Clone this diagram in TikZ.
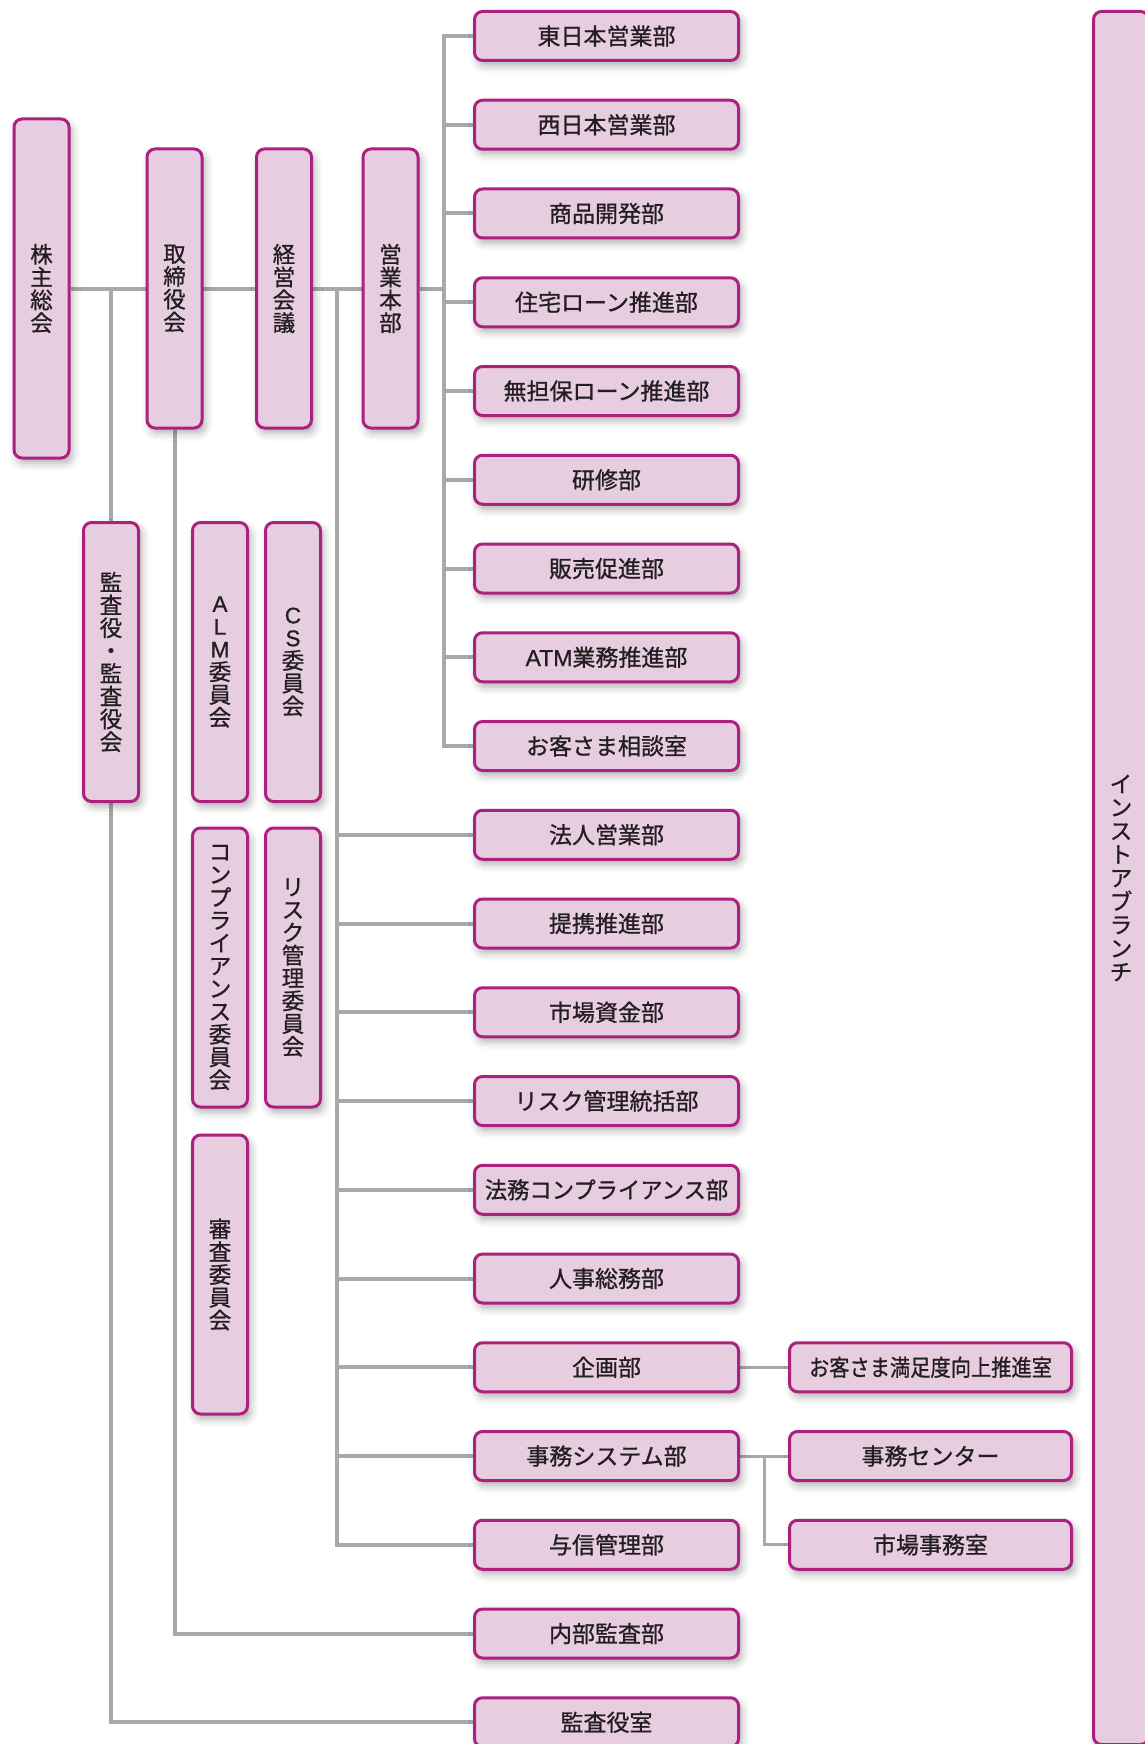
\documentclass[tikz,border=0pt]{standalone}
\usepackage{fontspec}
\setmainfont{Noto Sans CJK JP}[RawFeature={embolden=0.9}]
\newfontfamily\latfont{Liberation Sans}[RawFeature={embolden=0.9}]
\usepackage{graphicx}
\usetikzlibrary{shadows.blur,backgrounds}
\definecolor{bord}{HTML}{AC2180}
\definecolor{boxfill}{HTML}{E7CDE0}
\definecolor{linegray}{HTML}{A7A9AC}
\definecolor{txt}{HTML}{231F20}
\tikzset{
  orgbox/.style={draw=bord, fill=boxfill, line width=3pt, rounded corners=8pt,
    text=txt, inner sep=0pt,
    blur shadow={shadow xshift=3pt, shadow yshift=-5pt, shadow blur radius=8pt, shadow opacity=32}},
  hbox/.style={orgbox, minimum width=264pt, minimum height=49pt, font=\fontsize{23}{26}\selectfont},
  sbox/.style={orgbox, minimum width=282pt, minimum height=49pt, font=\fontsize{23}{26}\selectfont},
  vbox/.style={orgbox, minimum width=55pt, minimum height=279pt, align=center, font=\fontsize{22.5}{22.8}\selectfont},
  conn/.style={draw=linegray, line width=4pt},
  subconn/.style={draw=linegray, line width=3pt},
}
\begin{document}
\begin{tikzpicture}[x=1pt,y=-1pt]
\useasboundingbox (0,0) rectangle (1144,1744);
% vertical boxes
\node[vbox, minimum height=339pt] (shu) at (41.5,288.5) {株\\主\\総\\会};
\node[vbox] (tori) at (174.5,288.5) {取\\締\\役\\会};
\node[vbox] (kei) at (284,288.5) {経\\営\\会\\議};
\node[vbox] (eig) at (390.5,288.5) {営\\業\\本\\部};
\node[vbox] (kansa) at (111,662) {監\\査\\役\\・\\監\\査\\役\\会};
\node[vbox] (alm) at (220,662) {{\latfont A}\\{\latfont L}\\{\latfont M}\\委\\員\\会};
\node[vbox] (cs) at (293,662) {{\latfont C}\\{\latfont S}\\委\\員\\会};
\node[vbox] (comp) at (220,967.5) {コ\\ン\\プ\\ラ\\イ\\ア\\ン\\ス\\委\\員\\会};
\node[vbox] (risk) at (293,967.5) {リ\\ス\\ク\\管\\理\\委\\員\\会};
\node[vbox] (shinsa) at (220,1274.5) {審\\査\\委\\員\\会};
\node[vbox, minimum height=1733pt, font=\fontsize{22.5}{23.5}\selectfont] (instore) at (1121,878) {イ\\ン\\ス\\ト\\ア\\ブ\\ラ\\ン\\チ};
% horizontal boxes
\foreach \k/\t in {1/東日本営業部,2/西日本営業部,3/商品開発部,4/住宅ローン推進部,5/無担保ローン推進部,
  6/研修部,7/販売促進部,8/{{\latfont ATM}業務推進部},9/お客さま相談室,10/法人営業部,11/提携推進部,12/市場資金部,
  13/リスク管理統括部,14/{\scalebox{0.97}[1]{法務コンプライアンス部}},15/人事総務部,16/企画部,17/事務システム部,18/与信管理部,
  19/内部監査部,20/監査役室}
  \node[hbox] (r\k) at (606.5,{36+(\k-1)*88.75}) {\t};
\node[sbox] (s16) at (930.5,{36+15*88.75}) {\scalebox{0.88}[1]{お客さま満足度向上推進室}};
\node[sbox] (s17) at (930.5,{36+16*88.75}) {事務センター};
\node[sbox] (s18) at (930.5,{36+17*88.75}) {市場事務室};
% connectors
\coordinate (ebus) at (444,288.5);
\coordinate (kbus) at (337,288.5);
\coordinate (sj) at (764,{36+16*88.75});
\begin{pgfonlayer}{background}
\draw[conn] (shu.east) -- (eig.west);
\draw[conn] (eig.east) -- (ebus);
\draw[conn] (r1.west) -- (r1.west -| ebus) |- (r9.west);
\foreach \k in {2,...,8} \draw[conn] (r\k.west) -- (r\k.west -| ebus);
\draw[conn] (kbus) |- (r18.west);
\foreach \k in {10,...,17} \draw[conn] (r\k.west) -- (r\k.west -| kbus);
\draw[conn] (tori.south) |- (r19.west);
\draw[conn] (kansa.north |- shu.east) |- (r20.west);
\draw[subconn] (r16.east) -- (s16.west);
\draw[subconn] (r17.east) -- (s17.west);
\draw[subconn] (sj) |- (s18.west);
\end{pgfonlayer}
\end{tikzpicture}
\end{document}
